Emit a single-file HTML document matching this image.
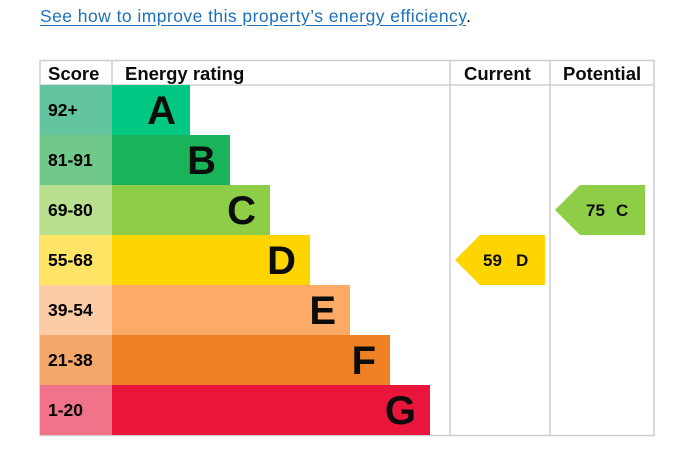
<!DOCTYPE html>
<html><head><style>
body{margin:0;background:#fff;width:700px;height:469px;overflow:hidden;font-family:"Liberation Sans",Arial,sans-serif}
.l{position:absolute;left:40px;top:6px;font-size:17.5px;color:#0b0c0c;letter-spacing:0.45px;white-space:nowrap}
.l a{color:#1d70b8;text-decoration:underline;text-underline-offset:3px}
svg{position:absolute;left:0;top:0}
</style></head><body>
<div class="l"><a>See how to improve this property’s energy efficiency</a>.</div>
<svg width="700" height="469" font-family="Liberation Sans, Arial, sans-serif" font-weight="bold">
<g stroke="#cfcfcf" stroke-width="1.5" fill="none">
<rect x="40" y="60.5" width="614" height="375"/>
<line x1="40" y1="85" x2="654" y2="85"/>
<line x1="112" y1="60" x2="112" y2="85"/>
<line x1="450" y1="60" x2="450" y2="435"/>
<line x1="550" y1="60" x2="550" y2="435"/>
</g>
<g font-size="18.5" fill="#0b0c0c">
<text x="48" y="80">Score</text><text x="125" y="80">Energy rating</text>
<text x="464" y="80">Current</text><text x="563" y="80">Potential</text>
</g>
<g font-size="17.5">
<rect x="40" y="85" width="72" height="50" fill="#63c59f"/><rect x="112" y="85" width="78" height="50" fill="#00c781"/>
<rect x="40" y="135" width="72" height="50" fill="#70c98a"/><rect x="112" y="135" width="118" height="50" fill="#19b459"/>
<rect x="40" y="185" width="72" height="50" fill="#b9e08f"/><rect x="112" y="185" width="158" height="50" fill="#8dce46"/>
<rect x="40" y="235" width="72" height="50" fill="#ffe466"/><rect x="112" y="235" width="198" height="50" fill="#ffd500"/>
<rect x="40" y="285" width="72" height="50" fill="#fdcca4"/><rect x="112" y="285" width="238" height="50" fill="#fcaa65"/>
<rect x="40" y="335" width="72" height="50" fill="#f5a86b"/><rect x="112" y="335" width="278" height="50" fill="#ef8023"/>
<rect x="40" y="385" width="72" height="50" fill="#f07389"/><rect x="112" y="385" width="318" height="50" fill="#e9153b"/>
<text x="48" y="116">92+</text><text x="48" y="166">81-91</text><text x="48" y="216">69-80</text>
<text x="48" y="266">55-68</text><text x="48" y="316">39-54</text><text x="48" y="366">21-38</text><text x="48" y="416">1-20</text>
</g>
<g font-size="40" text-anchor="end" fill="#0b0c0c">
<text x="176" y="124">A</text><text x="216" y="174">B</text><text x="256" y="224">C</text>
<text x="296" y="274">D</text><text x="336" y="324">E</text><text x="376" y="374">F</text><text x="416" y="424">G</text>
</g>
<polygon points="455,260 480,235 545,235 545,285 480,285" fill="#ffd500"/>
<polygon points="555,210 580,185 645,185 645,235 580,235" fill="#8dce46"/>
<g font-size="17" fill="#0b0c0c">
<text x="483" y="266">59</text><text x="516" y="266">D</text>
<text x="586" y="216">75</text><text x="616" y="216">C</text>
</g>
</svg>
</body></html>
